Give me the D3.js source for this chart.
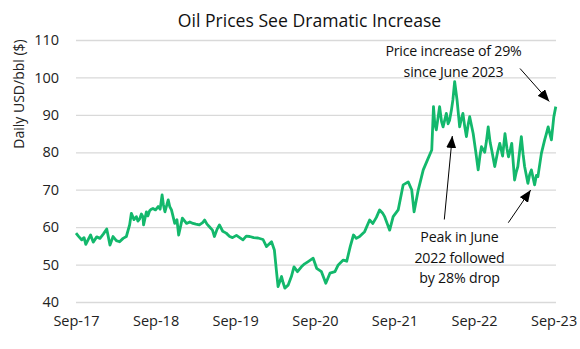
<!DOCTYPE html>
<html>
<head>
<meta charset="utf-8">
<script src="https://cdn.jsdelivr.net/npm/d3@7"></script>
<style>
  html, body { margin: 0; padding: 0; background: #fff; }
  svg { display: block; font-family: "Open Sans", sans-serif; }
</style>
</head>
<body>
<svg id="chart" width="580" height="349"></svg>
<script>
const title = "Oil Prices See Dramatic Increase";
const yLabel = "Daily USD/bbl ($)";
const yTicks = [40, 50, 60, 70, 80, 90, 100, 110];
const xTickDates = ["2017-09-01", "2018-09-01", "2019-09-01", "2020-09-01", "2021-09-01", "2022-09-01", "2023-09-01"];
const xTickLabels = ["Sep-17", "Sep-18", "Sep-19", "Sep-20", "Sep-21", "Sep-22", "Sep-23"];

const dates = [
  "2017-09-01","2017-09-12","2017-09-27","2017-10-08","2017-10-16","2017-10-28","2017-11-07","2017-11-19","2017-12-05","2017-12-20",
  "2018-01-05","2018-01-20","2018-02-04","2018-02-18","2018-03-05","2018-03-20","2018-04-05","2018-04-20","2018-05-05",
  "2018-05-13","2018-05-25","2018-06-05","2018-06-12","2018-06-20","2018-06-28","2018-07-05","2018-07-08","2018-07-21","2018-07-28","2018-08-05","2018-08-12","2018-08-20",
  "2018-09-01","2018-09-13","2018-09-22","2018-10-01","2018-10-07","2018-10-14","2018-10-29","2018-11-05","2018-11-13","2018-11-28","2018-12-08","2018-12-16","2019-01-02",
  "2019-01-21","2019-02-05","2019-02-20","2019-03-05","2019-03-21","2019-04-05","2019-04-14","2019-04-25","2019-05-06","2019-05-20","2019-05-29","2019-06-10","2019-06-21",
  "2019-07-06","2019-07-22","2019-08-07","2019-08-20","2019-09-07","2019-09-22","2019-10-07","2019-10-22","2019-11-07","2019-11-25",
  "2019-12-15","2020-01-07","2020-01-23","2020-02-15","2020-02-28","2020-03-08","2020-03-16","2020-04-01","2020-04-08","2020-04-16",
  "2020-05-01","2020-05-16","2020-05-28","2020-06-13","2020-07-01","2020-07-16","2020-08-01","2020-08-24","2020-09-09",
  "2020-10-01","2020-10-21","2020-11-09","2020-12-02","2020-12-17","2021-01-09","2021-01-25","2021-02-10","2021-02-25",
  "2021-03-10","2021-03-25","2021-04-17","2021-05-10","2021-05-25","2021-06-10","2021-06-25","2021-07-08","2021-07-18","2021-08-10",
  "2021-08-26","2021-09-18","2021-10-11","2021-11-03","2021-11-19","2021-11-30","2021-12-19","2022-01-11","2022-01-30",
  "2022-02-19","2022-02-27","2022-03-05","2022-03-12","2022-03-27","2022-04-05","2022-04-12","2022-04-27","2022-05-05","2022-05-12","2022-05-20","2022-05-27","2022-06-04",
  "2022-06-15","2022-06-27","2022-07-05","2022-07-12","2022-07-20","2022-07-28","2022-08-05","2022-08-12","2022-08-28","2022-09-08","2022-09-20","2022-09-28","2022-10-05",
  "2022-10-20","2022-10-28","2022-11-05","2022-11-14","2022-11-21","2022-12-05","2022-12-18","2022-12-28","2023-01-10","2023-01-21","2023-01-30","2023-02-06",
  "2023-02-14","2023-02-21","2023-03-06","2023-03-14","2023-03-21","2023-04-06","2023-04-14","2023-04-21","2023-05-06","2023-05-14","2023-05-22","2023-06-06","2023-06-14","2023-06-21",
  "2023-07-07","2023-07-22","2023-07-30","2023-08-07","2023-08-22","2023-09-02","2023-09-11"
];
const prices = [
  58.4, 57.6, 56.6, 57.2, 55.4, 56.8, 57.9, 56.0, 57.4, 57.0,
  58.2, 59.5, 55.2, 57.5, 56.4, 56.1, 57.0, 57.5, 60.6,
  63.7, 62.0, 62.8, 61.6, 62.2, 63.5, 62.8, 60.6, 64.1, 63.0, 64.4, 64.8, 65.0,
  64.6, 65.5, 64.8, 68.6, 66.0, 64.1, 67.3, 65.5, 64.6, 61.0, 62.0, 57.9, 62.4,
  61.0, 61.4, 61.0, 60.8, 60.6, 61.2, 61.9, 60.8, 60.1, 59.2, 57.5, 59.4, 60.6,
  58.9, 58.4, 57.5, 57.2, 57.8, 57.2, 56.6, 57.6, 57.5, 57.2,
  57.1, 56.7, 54.8, 56.1, 53.9, 48.6, 44.1, 46.8, 45.2, 43.7,
  44.5, 46.8, 49.4, 48.1, 49.4, 50.2, 50.8, 51.7, 49.0,
  48.1, 45.0, 47.7, 48.1, 49.9, 51.2, 50.9, 54.8, 57.9,
  57.0, 57.5, 58.8, 61.9, 61.0, 62.6, 64.6, 63.8, 62.8, 59.2,
  62.8, 64.6, 71.3, 72.1, 70.0, 64.1, 69.9, 75.3, 77.9,
  80.6, 92.2, 87.5, 86.0, 92.2, 88.2, 86.8, 90.4, 87.6, 88.6, 91.2, 94.0, 98.9,
  94.0, 86.8, 89.0, 90.4, 87.0, 84.2, 87.4, 89.5, 85.0, 80.5, 75.3, 79.0, 81.5,
  80.0, 83.0, 86.8, 82.6, 80.6, 76.2, 80.0, 82.4, 79.0, 85.0, 81.0, 78.8,
  80.5, 82.4, 72.6, 74.8, 76.2, 84.2, 79.5, 76.2, 71.7, 74.0, 75.3, 71.3, 73.8, 73.5,
  79.7, 83.3, 85.0, 86.8, 83.3, 89.5, 92.2
];

const annotations = [
  { lines: ["Price increase of 29%", "since June 2023"], x: 453.5, y: 56 },
  { lines: ["Peak in June", "2022 followed", "by 28% drop"], x: 459.5, y: 242 }
];
const arrows = [
  { from: [520, 68.5], to: [549.3, 101.5] },
  { from: [444.3, 219.5], to: [452.3, 136] },
  { from: [508.3, 222.7], to: [530.7, 190] }
];

const parse = d3.timeParse("%Y-%m-%d");
const data = dates.map((d, i) => ({ date: parse(d), value: prices[i] }));

const svg = d3.select("#chart");
const x = d3.scaleTime()
  .domain([parse("2017-09-01"), parse("2023-09-12")])
  .range([76, 556]);
const y = d3.scaleLinear().domain([40, 110]).range([302, 40]);

// gridlines + y axis
const yAxis = d3.axisLeft(y).tickValues(yTicks).tickSize(-(556 - 76)).tickPadding(17);
const gy = svg.append("g").attr("transform", "translate(76,0)").call(yAxis);
gy.select(".domain").remove();
gy.selectAll(".tick line").attr("stroke", "#d9d9d9").attr("stroke-width", 1.3);
gy.selectAll(".tick text").attr("font-size", 14.5).attr("fill", "#222").attr("font-family", "Open Sans");

// x axis
const xAxis = d3.axisBottom(x)
  .tickValues(xTickDates.map(parse))
  .tickFormat((d, i) => xTickLabels[i])
  .tickSize(0).tickPadding(14);
const gx = svg.append("g").attr("transform", "translate(0,302)").call(xAxis);
gx.select(".domain").remove();
gx.selectAll(".tick text").attr("font-size", 14.5).attr("fill", "#222").attr("font-family", "Open Sans");

// line
const line = d3.line().x(d => x(d.date)).y(d => y(d.value));
svg.append("path").datum(data)
  .attr("fill", "none").attr("stroke", "#13b86c").attr("stroke-width", 2.8)
  .attr("stroke-linejoin", "round").attr("d", line);

// title
svg.append("text").attr("x", 309.5).attr("y", 27).attr("text-anchor", "middle")
  .attr("font-size", 17.6).attr("fill", "#111").text(title);

// y label
svg.append("text").attr("transform", "translate(24,94) rotate(-90)")
  .attr("text-anchor", "middle").attr("font-size", 14).attr("fill", "#222").text(yLabel);

// annotations
annotations.forEach(a => {
  const t = svg.append("text").attr("text-anchor", "middle").attr("font-size", 14.2)
    .attr("letter-spacing", -0.2).attr("fill", "#111");
  a.lines.forEach((l, i) => t.append("tspan").attr("x", a.x).attr("y", a.y + i * 20.5).text(l));
});

// arrows
svg.append("defs").append("marker")
  .attr("id", "ah").attr("viewBox", "0 0 12 10").attr("refX", 12).attr("refY", 5)
  .attr("markerWidth", 12).attr("markerHeight", 10).attr("markerUnits", "userSpaceOnUse")
  .attr("orient", "auto")
  .append("path").attr("d", "M0,0 L12,5 L0,10 Z").attr("fill", "#000");
arrows.forEach(a => {
  svg.append("line").attr("x1", a.from[0]).attr("y1", a.from[1]).attr("x2", a.to[0]).attr("y2", a.to[1])
    .attr("stroke", "#000").attr("stroke-width", 1).attr("marker-end", "url(#ah)");
});
</script>
</body>
</html>
